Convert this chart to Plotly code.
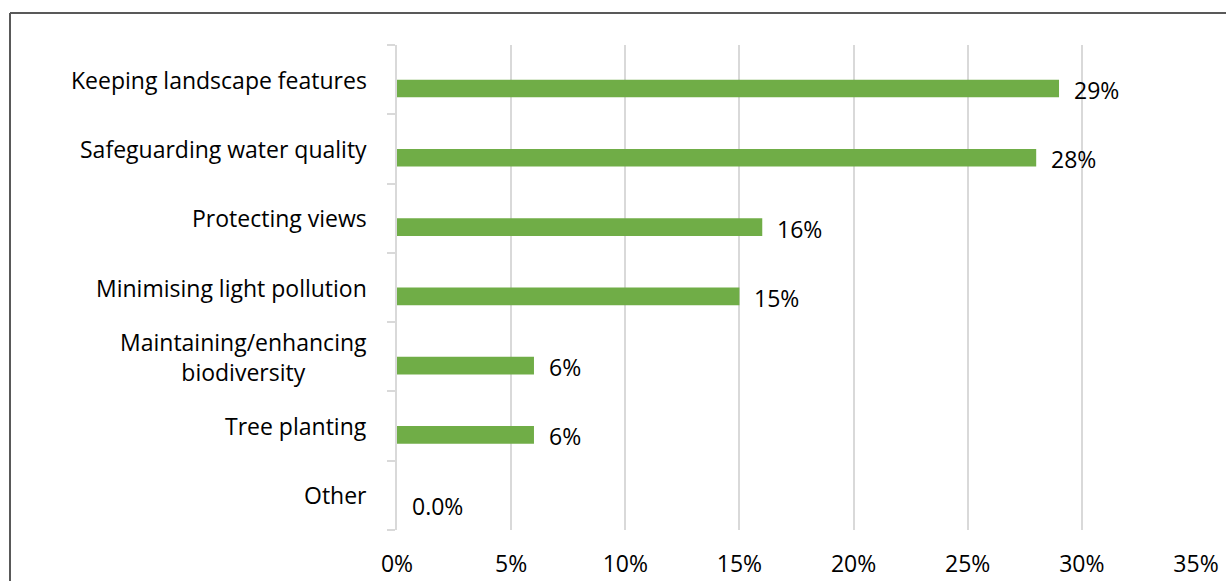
import plotly.graph_objects as go

# Survey responses: share of respondents choosing each priority
categories = [
    "Keeping landscape features",
    "Safeguarding water quality",
    "Protecting views",
    "Minimising light pollution",
    "Maintaining/enhancing<br>biodiversity",
    "Tree planting",
    "Other",
]
shares = [29, 28, 16, 15, 6, 6, 0]
x_ticks = [0, 5, 10, 15, 20, 25, 30, 35]
x_tick_labels = [f"{t}%" for t in x_ticks]

FONT = "Open Sans"
FONT_SIZE = 23
BAR_GREEN = "#70AD47"
GRID = "#D9D9D9"

positions = list(range(len(categories)))


def pct_label(v):
    return f"{v:.1f}%" if v == 0 else f"{v:.0f}%"


fig = go.Figure()
fig.add_trace(
    go.Bar(
        x=shares,
        y=positions,
        orientation="h",
        marker=dict(color=BAR_GREEN, line=dict(width=0)),
        width=0.255,
        offset=0.0,
        hoverinfo="skip",
    )
)

annotations = []
# value labels to the right of each bar
for pos, v in zip(positions, shares):
    annotations.append(
        dict(
            x=v, y=pos + 0.15, xref="x", yref="y",
            text=pct_label(v), showarrow=False,
            xanchor="left", yanchor="middle", xshift=13,
            font=dict(family=FONT, size=FONT_SIZE, color="#000000"),
        )
    )
# category labels, centred per line, right edge near the axis
for pos, name in zip(positions, categories):
    annotations.append(
        dict(
            x=-0.035, y=pos, xref="paper", yref="y",
            text=name, showarrow=False,
            xanchor="right", yanchor="middle", align="center",
            font=dict(family=FONT, size=FONT_SIZE, color="#000000"),
        )
    )

n = len(categories)
fig.update_layout(
    width=1226,
    height=581,
    margin=dict(l=397, r=30, t=45, b=51, autoexpand=False),
    paper_bgcolor="white",
    plot_bgcolor="white",
    showlegend=False,
    font=dict(family=FONT, size=FONT_SIZE, color="#000000"),
    annotations=annotations,
    xaxis=dict(
        range=[0, 35],
        tickvals=x_ticks,
        ticktext=x_tick_labels,
        showgrid=True,
        gridcolor=GRID,
        gridwidth=2,
        zeroline=False,
        showline=False,
        ticks="",
        automargin=False,
        ticklabelstandoff=18,
        tickfont=dict(family=FONT, size=FONT_SIZE, color="#000000"),
    ),
    yaxis=dict(
        range=[n - 0.5, -0.5],
        tickvals=[p - 0.5 for p in range(n + 1)],
        showticklabels=False,
        showgrid=False,
        zeroline=False,
        showline=True,
        linecolor=GRID,
        linewidth=2,
        ticks="outside",
        ticklen=8,
        tickwidth=2,
        tickcolor=GRID,
        automargin=False,
    ),
    shapes=[
        # chart frame: left and top edges
        dict(type="line", xref="paper", yref="paper",
             x0=(10 - 397) / 799, x1=(10 - 397) / 799,
             y0=(530 - 13) / 485, y1=(530 - 585) / 485,
             line=dict(color="#595959", width=2)),
        dict(type="line", xref="paper", yref="paper",
             x0=(10 - 397) / 799, x1=(1230 - 397) / 799,
             y0=(530 - 13) / 485, y1=(530 - 13) / 485,
             line=dict(color="#595959", width=2)),
    ],
)

fig.write_html("out.html")
